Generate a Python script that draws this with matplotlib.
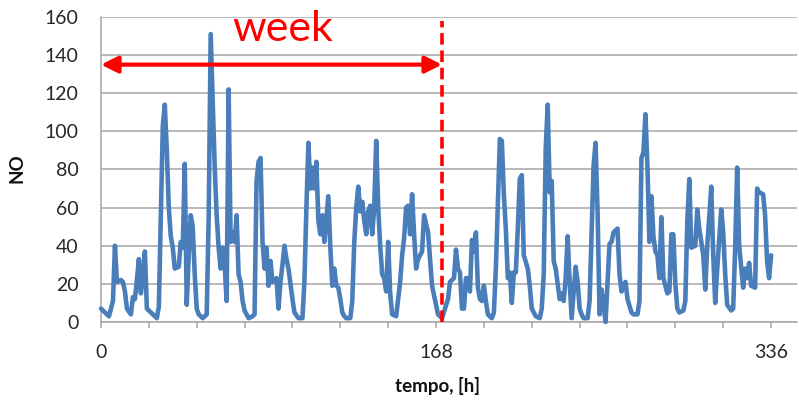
import matplotlib
matplotlib.use("Agg")
import matplotlib.pyplot as plt

# Hourly NO concentration over two weeks (hour index, value)
hours = [
    0, 2, 4, 6, 7, 8, 10, 11, 12, 13, 15, 16, 17, 18, 19, 20, 21, 22, 23,
    25, 27, 28, 29, 31, 32, 33, 34, 35, 36, 37, 39, 40, 41, 42, 43, 44, 45,
    46, 47, 48, 49, 50, 51, 53, 54, 55, 56, 57, 58, 59, 60, 61, 62, 63, 64,
    65, 66, 67, 68, 69, 70, 71, 72, 73, 74, 76, 77, 78, 79, 80, 81, 82, 83,
    84, 85, 86, 87, 88, 89, 90, 91, 92, 93, 94, 95, 96, 97, 99, 101, 102,
    103, 104, 105, 106, 107, 108, 109, 110, 111, 112, 114, 115, 116, 117,
    118, 119, 120, 121, 122, 123, 125, 126, 127, 128, 129, 130, 131, 132,
    133, 134, 135, 136, 137, 138, 139, 140, 141, 142, 143, 144, 145, 146,
    148, 150, 151, 152, 153, 154, 155, 156, 157, 158, 159, 161, 162, 164,
    165, 166, 168, 169, 171, 174, 175, 177, 178, 179, 180, 181, 182, 183,
    184, 185, 186, 187, 188, 189, 190, 191, 192, 193, 194, 196, 197, 198,
    200, 201, 202, 203, 204, 205, 206, 207, 208, 209, 210, 211, 212, 214,
    215, 216, 218, 220, 221, 222, 223, 224, 225, 226, 227, 228, 230, 231,
    232, 233, 234, 235, 236, 238, 239, 240, 241, 242, 244, 245, 247, 248,
    249, 250, 251, 252, 253, 254, 255, 256, 257, 259, 260, 261, 262, 263,
    264, 266, 267, 269, 270, 271, 272, 273, 274, 275, 276, 277, 278, 279,
    280, 281, 282, 284, 285, 286, 287, 288, 289, 290, 292, 293, 294, 295,
    296, 298, 299, 300, 302, 303, 304, 305, 306, 307, 308, 309, 311, 312,
    313, 314, 316, 317, 318, 319, 320, 322, 323, 324, 325, 326, 328, 329,
    330, 332, 333, 334, 335, 336,
]
no_values = [
    7, 5, 3, 11, 40, 21, 22, 21, 16, 7, 4, 13, 12, 22, 33, 15, 25, 37, 7,
    5, 3, 2, 8, 103, 114, 90, 60, 45, 39, 28, 29, 42, 39, 83, 9, 35, 56,
    50, 25, 7, 4, 3, 2, 4, 55, 151, 117, 82, 56, 39, 28, 39, 30, 11, 122,
    42, 47, 42, 56, 25, 21, 11, 6, 4, 2, 3, 4, 74, 84, 86, 42, 28, 39,
    19, 32, 21, 22, 23, 7, 21, 30, 40, 33, 28, 20, 12, 5, 2, 2, 21,
    60, 94, 70, 81, 70, 84, 53, 46, 56, 42, 66, 39, 19, 28,
    19, 18, 12, 5, 3, 2, 2, 11, 42, 60, 71, 58, 63, 53,
    46, 58, 61, 46, 60, 95, 60, 40, 25, 23, 16, 42, 15, 4,
    3, 21, 35, 44, 60, 61, 46, 67, 46, 28, 33, 37, 56, 47,
    33, 19, 9, 4, 2, 12, 21, 23, 38, 28, 26, 7, 7, 23,
    23, 16, 43, 37, 47, 18, 12, 11, 19, 11, 4, 2, 5, 28,
    96, 95, 67, 49, 23, 26, 10, 26, 26, 49, 75, 77, 35, 28,
    19, 7, 3, 2, 7, 25, 91, 114, 68, 74, 32, 28, 12, 15,
    11, 23, 45, 21, 2, 29, 21, 7, 4, 2, 2, 11, 82, 94,
    58, 4, 17, 9, 0, 21, 41, 42, 47, 49, 25, 16, 19, 21,
    12, 5, 4, 4, 11, 86, 89, 109, 82, 42, 66, 45, 37, 35,
    23, 55, 23, 15, 16, 46, 46, 20, 7, 5, 6, 11, 53, 75,
    39, 40, 59, 49, 35, 17, 40, 55, 71, 35, 10, 28, 59, 47,
    25, 9, 6, 7, 39, 81, 40, 18, 28, 23, 31, 19, 18, 70,
    68, 67, 56, 32, 23, 35,
]

x_ticks = [0, 168, 336]
y_ticks = [0, 20, 40, 60, 80, 100, 120, 140, 160]
week_end = 171
arrow_level = 135

FONT = ["Lato", "DejaVu Sans"]
plt.rcParams["font.family"] = FONT

fig = plt.figure(figsize=(7.99, 4.04), dpi=100)
ax = fig.add_axes([0.1264, 0.203, 0.8711, 0.755])

grid_color = "#A6A6A6"
ax.set_axisbelow(True)
ax.yaxis.grid(True, color=grid_color, linewidth=1.1)

ax.plot(hours, no_values, color="#4A7EBB", linewidth=3.3,
        solid_joinstyle="round", solid_capstyle="round", clip_on=False, zorder=3)

ax.set_xlim(0, 349)
ax.set_ylim(0, 160)

ax.set_yticks(y_ticks)
ax.set_xticks(x_ticks)
ax.set_xticks(range(0, 337, 24), minor=True)

ax.tick_params(axis="y", length=0, pad=16, labelsize=14, labelcolor="#262626")
ax.tick_params(axis="x", which="both", direction="out", length=4,
               color=grid_color, width=1.1, pad=12, labelsize=14,
               labelcolor="#262626")

for side in ("top", "right"):
    ax.spines[side].set_visible(False)
for side in ("left", "bottom"):
    ax.spines[side].set_color(grid_color)
    ax.spines[side].set_linewidth(1.1)

ax.set_ylabel("NO", fontsize=13.5, fontweight="bold", color="#111111")
ax.yaxis.set_label_coords(-0.108, 0.505)
ax.set_xlabel("tempo, [h]", fontsize=13.5, fontweight="bold", color="#111111")
ax.xaxis.set_label_coords(0.483, -0.18)

# Week marker: dashed boundary, span arrow and label
ax.plot([week_end, week_end], [0, 158], color="#FF0000", linewidth=2.6,
        dashes=(3.2, 1.6), clip_on=False, zorder=4)
ax.annotate("", xy=(0, arrow_level), xytext=(week_end, arrow_level),
            arrowprops=dict(arrowstyle="<|-|>,head_length=0.5,head_width=0.25",
                            mutation_scale=20, color="#FF0000", lw=3.0,
                            shrinkA=0, shrinkB=0),
            annotation_clip=False, zorder=4)
ax.text(91, 147.4, "week", color="#FF0000", fontsize=31, ha="center",
        va="baseline", clip_on=False, zorder=4)

fig.savefig("out.png", dpi=100)
